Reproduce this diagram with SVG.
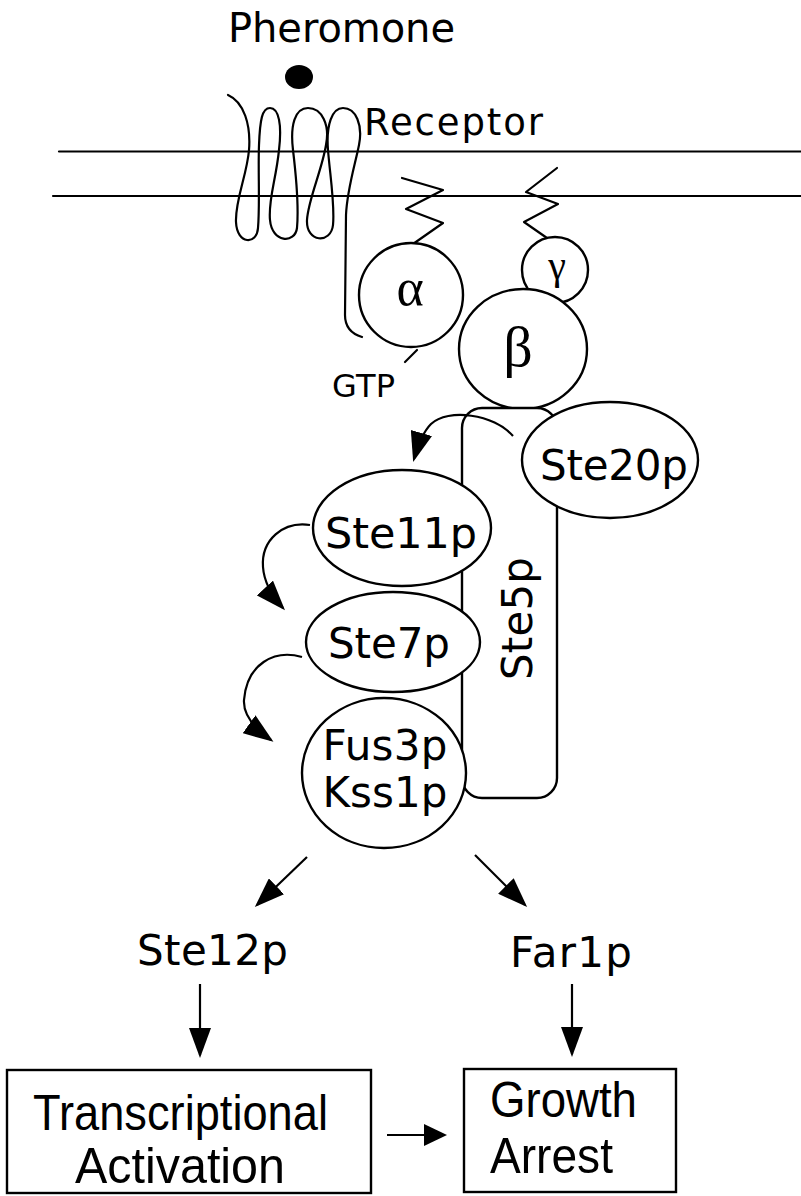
<svg xmlns="http://www.w3.org/2000/svg" width="801" height="1196" viewBox="0 0 801 1196">
  <style>
    .ln { fill: none; stroke: #000; stroke-width: 2.2; stroke-linecap: round; stroke-linejoin: round; }
    .shape { fill: #fff; stroke: #000; stroke-width: 2.4; }
    .lbl { font-family: "DejaVu Sans", "Liberation Sans", sans-serif; fill: #000; }
    .box { font-family: "Liberation Sans", Arial, sans-serif; fill: #000; }
    .greek { font-family: "Liberation Serif", "Times New Roman", serif; fill: #000; text-anchor: middle; }
    .conn { fill: none; stroke: #000; stroke-width: 2.2; }
  </style>
  <defs>
    <marker id="head" markerUnits="userSpaceOnUse" markerWidth="30" markerHeight="22" viewBox="0 0 30 22" refX="27" refY="11" orient="auto">
      <path d="M0,0 L30,11 L0,22 z" fill="#000"/>
    </marker>
    <marker id="head-sm" markerUnits="userSpaceOnUse" markerWidth="23" markerHeight="22" viewBox="0 0 23 22" refX="21" refY="11" orient="auto">
      <path d="M0,0 L23,11 L0,22 z" fill="#000"/>
    </marker>
  </defs>

  <rect width="801" height="1196" fill="#fff"/>

  <!-- plasma membrane -->
  <g id="membrane">
    <line class="ln" x1="59" y1="151.5" x2="801" y2="151.5"/>
    <line class="ln" x1="53" y1="196" x2="801" y2="196"/>
  </g>

  <!-- pheromone ligand -->
  <g id="pheromone">
    <text class="lbl" x="228" y="42" font-size="40" textLength="227">Pheromone</text>
    <ellipse cx="299" cy="77" rx="14" ry="12" fill="#000"/>
  </g>

  <!-- seven-transmembrane receptor -->
  <g id="receptor">
    <path class="ln" d="M228,95 C244,102 251,125 249,150 C247,175 235,200 236,222 C237,245 257,245 258,228 C260,205 258,170 259,145 C260,120 262,108 270,108 C279,108 282,125 279,150 C276,180 268,200 270,220 C272,243 295,244 297,228 C299,205 296,175 293,150 C290,125 295,108 308,108 C322,108 330,125 326,145 C322,170 308,200 307,220 C306,243 331,244 333,225 C335,205 330,175 328,150 C326,125 332,108 343,108 C356,108 363,125 359,145 C355,165 347,190 346,215 L345,315 C345,327 352,334 362,337"/>
    <text class="lbl" x="364" y="135" font-size="37" textLength="179">Receptor</text>
  </g>

  <!-- G-alpha with lipid anchor and bound GTP -->
  <g id="g-alpha">
    <polyline class="ln" points="402,178 443,190 406,209 443,223 413,244"/>
    <circle class="shape" cx="411" cy="295" r="52"/>
    <text class="greek" x="410" y="305" font-size="52">α</text>
    <line class="ln" x1="417" y1="350" x2="405" y2="362"/>
    <text class="lbl" x="332" y="397" font-size="32" textLength="63">GTP</text>
  </g>

  <!-- G-gamma with lipid anchor -->
  <g id="g-gamma">
    <polyline class="ln" points="557,168 526,192 558,204 524,222 547,238"/>
    <circle class="shape" cx="555" cy="270" r="33"/>
    <text class="greek" x="557" y="279" font-size="40">γ</text>
  </g>

  <!-- G-beta -->
  <g id="g-beta">
    <ellipse class="shape" cx="523" cy="349" rx="64" ry="60"/>
    <text class="greek" x="518" y="366" font-size="58">β</text>
  </g>

  <!-- Ste5p scaffold -->
  <g id="ste5p">
    <rect class="shape" x="462" y="408" width="95" height="390" rx="20" ry="20"/>
    <text class="lbl" font-size="42" text-anchor="middle" textLength="123" transform="translate(532,618.5) rotate(-90)">Ste5p</text>
  </g>

  <!-- Ste20p kinase -->
  <g id="ste20p">
    <ellipse class="shape" cx="610" cy="460" rx="88" ry="58"/>
    <text class="lbl" x="614" y="480" font-size="42" text-anchor="middle" textLength="148">Ste20p</text>
  </g>

  <!-- MAPKKK -->
  <g id="ste11p">
    <ellipse class="shape" cx="402" cy="528" rx="89" ry="58"/>
    <text class="lbl" x="401" y="548" font-size="43" text-anchor="middle" textLength="152">Ste11p</text>
  </g>

  <!-- MAPKK -->
  <g id="ste7p">
    <ellipse class="shape" cx="393" cy="642" rx="87" ry="50"/>
    <text class="lbl" x="389" y="658" font-size="42" text-anchor="middle" textLength="122">Ste7p</text>
  </g>

  <!-- MAPKs -->
  <g id="fus3p-kss1p">
    <ellipse class="shape" cx="384" cy="773" rx="82" ry="75"/>
    <text class="lbl" x="385" y="760" font-size="42" text-anchor="middle" textLength="125">Fus3p</text>
    <text class="lbl" x="385" y="807" font-size="42" text-anchor="middle" textLength="125">Kss1p</text>
  </g>

  <!-- downstream targets -->
  <g id="ste12p">
    <text class="lbl" x="137" y="965" font-size="42" textLength="151">Ste12p</text>
  </g>
  <g id="far1p">
    <text class="lbl" x="510" y="967" font-size="42" textLength="122">Far1p</text>
  </g>

  <!-- outcomes -->
  <g id="transcriptional-activation">
    <rect class="shape" x="7" y="1070" width="364" height="123" stroke-width="2.2"/>
    <text class="box" x="33" y="1130" font-size="50" textLength="295" lengthAdjust="spacingAndGlyphs">Transcriptional</text>
    <text class="box" x="75" y="1183" font-size="50" textLength="210" lengthAdjust="spacingAndGlyphs">Activation</text>
  </g>
  <g id="growth-arrest">
    <rect class="shape" x="464" y="1069" width="212" height="123" stroke-width="2.2"/>
    <text class="box" x="490" y="1117" font-size="50" textLength="147" lengthAdjust="spacingAndGlyphs">Growth</text>
    <text class="box" x="490" y="1173" font-size="50" textLength="123" lengthAdjust="spacingAndGlyphs">Arrest</text>
  </g>

  <!-- signalling arrows -->
  <g id="connectors">
    <path class="conn" marker-end="url(#head)" d="M513,436 C494,414 448,408 431,424 C424,431 418,445 414,459"/>
    <path class="conn" marker-end="url(#head)" d="M310,525 C283,521 261,540 263,567 C264,582 273,597 283,608"/>
    <path class="conn" marker-end="url(#head)" d="M302,657 C274,649 247,664 244,700 C243,716 257,730 271,740"/>
    <path class="conn" marker-end="url(#head)" d="M307,857 L257,905"/>
    <path class="conn" marker-end="url(#head)" d="M475,855 L525,905"/>
    <path class="conn" marker-end="url(#head)" d="M200,984 L200,1055"/>
    <path class="conn" marker-end="url(#head)" d="M572,984 L572,1054"/>
    <path class="conn" marker-end="url(#head-sm)" d="M387,1135 L445,1135"/>
  </g>
</svg>
